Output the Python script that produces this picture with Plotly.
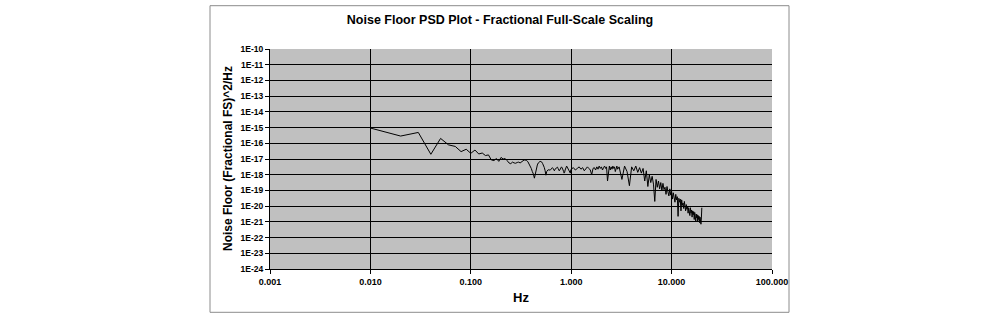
import plotly.graph_objects as go

# ---- data (log10 of PSD values) ----
freq_a = [0.01, 0.02, 0.03, 0.04, 0.05, 0.06, 0.07, 0.08, 0.09]
logpsd_a = [-15.03, -15.54, -15.31, -16.70, -15.69, -16.10, -16.20, -16.53, -16.38]

freq_b = [round(0.10 + 0.01 * i, 2) for i in range(90)]
logpsd_b = [
    -16.64, -16.43, -16.68, -16.62, -16.78, -16.74, -17.06, -17.10, -16.97, -17.15,
    -16.90, -17.00, -16.97, -17.10, -17.25, -17.30, -17.20, -17.25, -17.27, -17.22,
    -17.20, -17.25, -17.17, -17.10, -17.06, -17.08, -17.10, -17.17, -17.30, -17.48,
    -17.60, -17.80, -17.95, -18.22, -17.90, -17.60, -17.38, -17.25, -17.17, -17.15,
    -17.17, -17.20, -17.30, -17.40, -17.55, -17.75, -18.03, -17.80, -17.70, -17.68,
    -17.70, -17.72, -17.70, -17.65, -17.60, -17.55, -17.60, -17.70, -17.75, -17.65,
    -17.60, -17.55, -17.50, -17.52, -17.60, -17.70, -17.75, -17.70, -17.60, -17.55,
    -17.50, -17.55, -17.60, -17.70, -17.80, -17.90, -17.85, -17.70, -17.60, -17.50,
    -17.45, -17.50, -17.55, -17.60, -17.65, -17.70, -17.80, -17.85, -17.90, -17.70,
]

freq_c = [round(1.00 + 0.05 * i, 2) for i in range(40)]
logpsd_c = [
    -17.65, -17.55, -17.70, -17.60, -17.50, -17.65, -17.55, -17.75, -17.60, -17.50,
    -17.60, -17.70, -18.00, -17.60, -17.55, -17.70, -17.50, -17.65, -17.45, -17.60,
    -17.50, -17.70, -17.55, -17.45, -17.60, -17.50, -18.40, -17.60, -17.45, -17.70,
    -17.50, -17.65, -17.45, -17.60, -17.50, -17.80, -17.55, -17.45, -17.65, -17.50,
]

freq_d = [round(3.0 + 0.2 * i, 1) for i in range(86)]
logpsd_d = [
    -17.50, -18.30, -17.45, -17.80, -18.70, -17.50, -17.75, -17.45, -17.85, -17.55,
    -17.90, -17.60, -18.40, -17.75, -18.75, -18.00, -18.50, -18.10, -18.60, -19.70,
    -18.30, -18.80, -18.40, -18.90, -18.50,
    -19.00, -18.55, -18.95, -18.80, -19.25, -18.75, -19.10, -19.35, -18.90, -19.30,
    -19.05, -19.55, -19.15, -19.40, -19.75, -19.25, -19.60, -19.40, -20.65, -19.50,
    -19.75, -19.55, -20.30, -19.60, -19.95, -19.80, -20.15, -19.70, -20.05, -20.30,
    -19.90, -20.20, -20.00, -20.45, -20.10, -20.35, -20.60, -20.10, -20.45, -20.25,
    -20.70, -20.30, -20.55, -20.35, -20.85, -20.40, -20.65, -20.95, -20.50, -20.75,
    -20.55, -21.00, -20.60, -20.85, -20.65, -21.05, -20.70, -20.95, -21.15, -20.75,
    -20.10,
]

x_tick_vals = [0.001, 0.01, 0.1, 1, 10, 100]
x_tick_text = ["0.001", "0.010", "0.100", "1.000", "10.000", "100.000"]
y_exponents = list(range(-10, -25, -1))
y_tick_text = [f"1E{e}" for e in y_exponents]

title_text = "Noise Floor PSD Plot - Fractional Full-Scale Scaling"
x_title = "Hz"
y_title = "Noise Floor (Fractional FS)^2/Hz"

# ---- build ----
freqs = freq_a + freq_b + freq_c + freq_d
psd = [10 ** v for v in (logpsd_a + logpsd_b + logpsd_c + logpsd_d)]

FONT = "Liberation Sans, Arial, sans-serif"
W, H = 1000, 322
L, R, T, B = 270, 228, 48.5, 52.5
pw, ph = W - L - R, H - T - B

fig = go.Figure()
fig.add_trace(go.Scatter(x=freqs, y=psd, mode="lines",
                         line=dict(color="#000000", width=1), showlegend=False,
                         hoverinfo="x+y"))

fig.update_layout(
    width=W, height=H,
    margin=dict(l=L, r=R, t=T, b=B, pad=0),
    paper_bgcolor="white", plot_bgcolor="#C0C0C0",
    font=dict(family=FONT, color="black"),
    title=dict(text=title_text, x=0.5, xref="container", xanchor="center",
               y=1 - 20 / H, yref="container", yanchor="middle",
               font=dict(size=12.5, family=FONT, weight="bold", color="black")),
    showlegend=False,
)

fig.update_xaxes(type="log", range=[-3, 2], tickvals=x_tick_vals, ticktext=x_tick_text,
                 showgrid=True, gridcolor="#000000", gridwidth=1,
                 ticks="outside", ticklen=4, tickcolor="#000000",
                 showline=True, linecolor="#000000", linewidth=1, mirror=False,
                 zeroline=False, tickangle=0,
                 tickfont=dict(size=9, family=FONT, weight="bold", color="black"))
fig.update_yaxes(type="log", range=[-24, -10],
                 tickvals=[10.0 ** e for e in y_exponents], ticktext=y_tick_text,
                 showgrid=True, gridcolor="#000000", gridwidth=1,
                 ticks="outside", ticklen=4, tickcolor="#000000",
                 showline=True, linecolor="#000000", linewidth=1, mirror=False,
                 zeroline=False,
                 tickfont=dict(size=8.5, family=FONT, weight="bold", color="black"))

# outer chart border
def px_x(p):
    return (p - L) / pw
def px_y(p):
    return (H - B - p) / ph

fig.add_shape(type="rect", xref="paper", yref="paper",
              x0=px_x(210), x1=px_x(789), y0=px_y(313), y1=px_y(5),
              line=dict(color="#8c8c8c", width=1), fillcolor="rgba(0,0,0,0)", layer="below")

fig.add_annotation(text=x_title, xref="paper", yref="paper", x=0.5, y=px_y(298),
                   xanchor="center", yanchor="middle", showarrow=False,
                   font=dict(size=13, family=FONT, weight="bold", color="black"))
fig.add_annotation(text=y_title, xref="paper", yref="paper", x=px_x(228), y=0.5,
                   xanchor="center", yanchor="middle", showarrow=False, textangle=-90,
                   font=dict(size=12, family=FONT, weight="bold", color="black"))

fig.write_html("out.html")
